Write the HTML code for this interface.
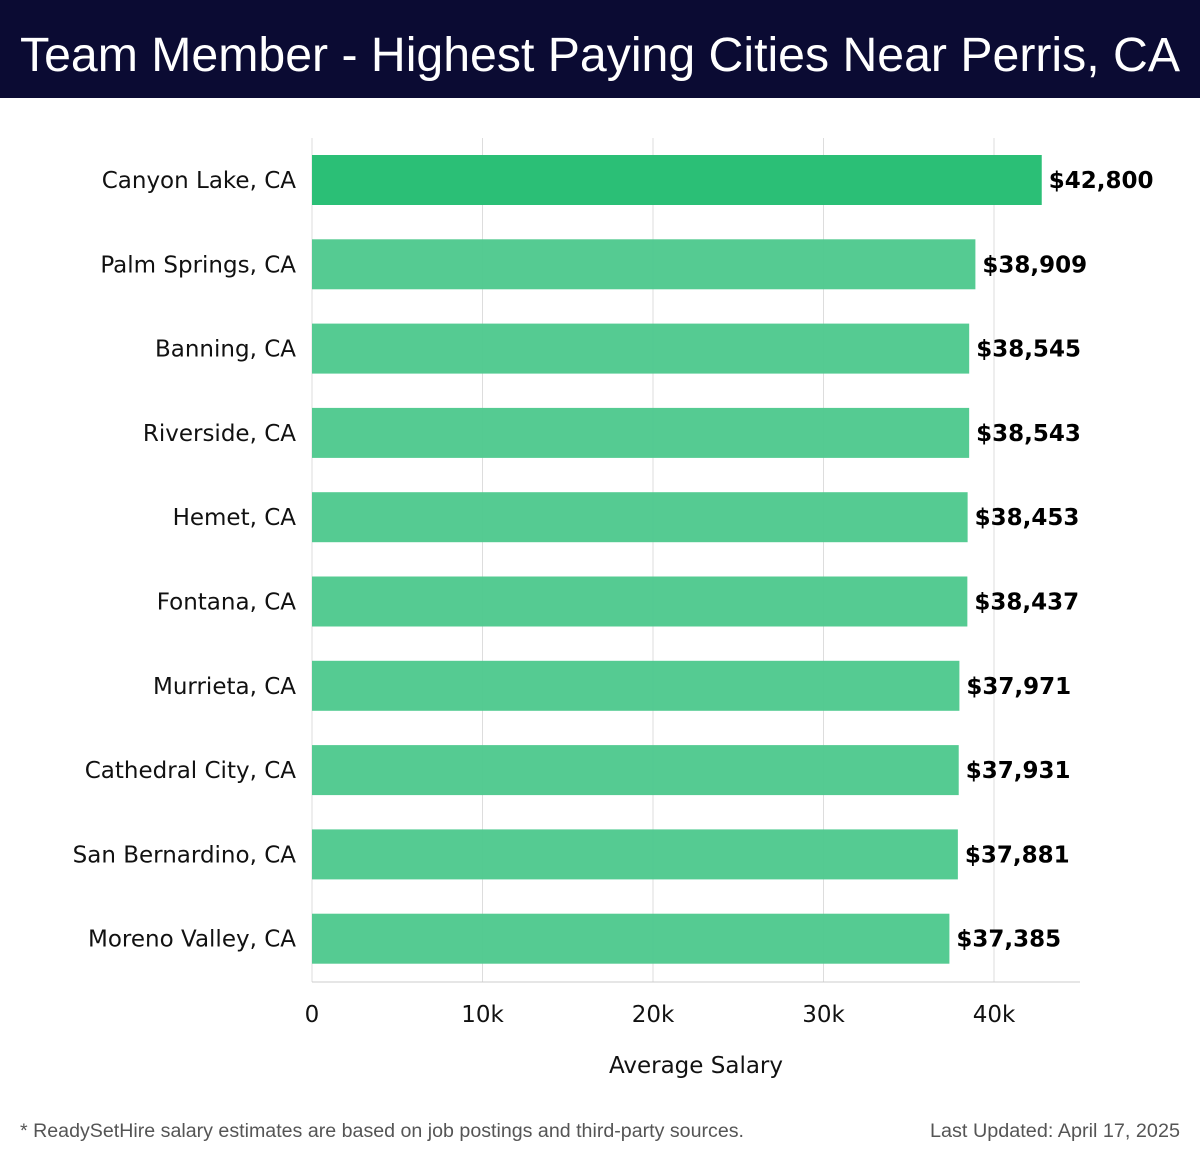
<!DOCTYPE html>
<html><head><meta charset="utf-8"><style>
html,body{margin:0;padding:0;background:#fff;}
svg{display:block;font-family:"DejaVu Sans","Liberation Sans",sans-serif;}
</style></head><body>
<svg id="chart" width="1200" height="1158" viewBox="0 0 1200 1158">
<rect x="0" y="0" width="1200" height="98" fill="#0b0b33"/>
<text x="20" y="71" font-size="48" fill="#fff" font-family="Liberation Sans, sans-serif" textLength="1160" lengthAdjust="spacingAndGlyphs">Team Member - Highest Paying Cities Near Perris, CA</text>
<g id="grid"></g>
<g id="bars"></g>
<text x="696" y="1073" font-size="23" fill="#111" text-anchor="middle">Average Salary</text>
<text x="20" y="1137" font-size="19" fill="#555" font-family="Liberation Sans, sans-serif" textLength="724" lengthAdjust="spacingAndGlyphs">* ReadySetHire salary estimates are based on job postings and third-party sources.</text>
<text x="1180" y="1137" font-size="19" fill="#555" font-family="Liberation Sans, sans-serif" text-anchor="end" textLength="250" lengthAdjust="spacingAndGlyphs">Last Updated: April 17, 2025</text>
</svg>
<script>
const cities = ["Canyon Lake, CA","Palm Springs, CA","Banning, CA","Riverside, CA","Hemet, CA","Fontana, CA","Murrieta, CA","Cathedral City, CA","San Bernardino, CA","Moreno Valley, CA"];
const salaries = [42800,38909,38545,38543,38453,38437,37971,37931,37881,37385];
const ticks = [0,10000,20000,30000,40000];
const tickLabels = ["0","10k","20k","30k","40k"];
const NS="http://www.w3.org/2000/svg";
const x0=312, pxPer=17.05/1000, top0=138, step=84.3, barH=50;
const xs=v=>x0+v*pxPer;
const yc=i=>180+i*step;
function mk(tag,attrs,parent,txt){const e=document.createElementNS(NS,tag);for(const k in attrs)e.setAttribute(k,attrs[k]);if(txt!==undefined)e.textContent=txt;parent.appendChild(e);return e;}
const grid=document.getElementById('grid'), bars=document.getElementById('bars');
ticks.forEach((t,i)=>{
  const gl=mk('line',{x1:xs(t),x2:xs(t),y1:top0,y2:982,stroke:'#dddddd','stroke-width':1},grid);
  
  
  const tl=mk('text',{x:xs(t),y:1022,'font-size':23,fill:'#111','text-anchor':'middle'},grid,tickLabels[i]);
  
  
});
const ax=mk('line',{x1:x0,x2:1080,y1:982,y2:982,stroke:'#cccccc','stroke-width':1},grid);


cities.forEach((c,i)=>{
  const y=yc(i);
  const r=mk('rect',{x:x0,y:y-barH/2,width:xs(salaries[i])-x0,height:barH,fill:i===0?'#2bbf76':'#4fc98e','fill-opacity':i===0?1:0.97},bars);
  
  
  const l=mk('text',{x:296,y:y+8,'font-size':23,fill:'#111','text-anchor':'end'},bars,c);
  
  
  const v=mk('text',{x:xs(salaries[i])+7,y:y+8,'font-size':23,'font-weight':'bold',fill:'#000'},bars,'$'+salaries[i].toLocaleString('en-US'));
  
  
});
</script>
</body></html>
